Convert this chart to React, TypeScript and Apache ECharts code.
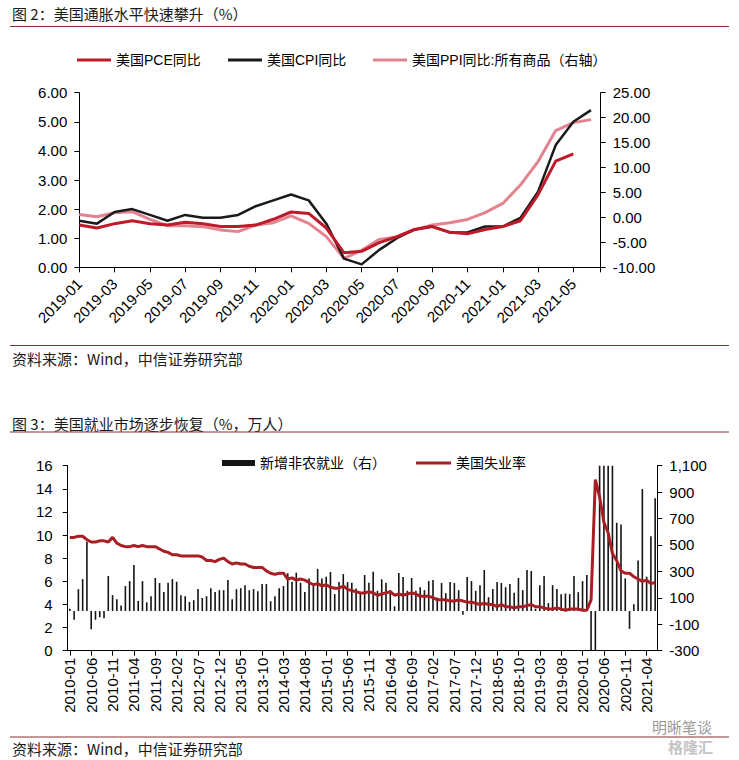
import React, { useEffect, useRef } from 'react';
import * as echarts from 'echarts';

// ---------- Chart 1 (图2) data ----------
const months1 = [
  '2019-01', '2019-02', '2019-03', '2019-04', '2019-05', '2019-06', '2019-07', '2019-08', '2019-09', '2019-10', '2019-11', '2019-12',
  '2020-01', '2020-02', '2020-03', '2020-04', '2020-05', '2020-06', '2020-07', '2020-08', '2020-09', '2020-10', '2020-11', '2020-12',
  '2021-01', '2021-02', '2021-03', '2021-04', '2021-05', '2021-06',
];
const pceYoY = [1.45, 1.35, 1.5, 1.6, 1.5, 1.45, 1.55, 1.5, 1.4, 1.4, 1.45, 1.65, 1.9, 1.85, 1.35, 0.5, 0.55, 0.85, 1.05, 1.3, 1.4, 1.2, 1.15, 1.3, 1.4, 1.6, 2.5, 3.65, 3.9];
const cpiYoY = [1.6, 1.5, 1.9, 2.0, 1.8, 1.6, 1.8, 1.7, 1.7, 1.8, 2.1, 2.3, 2.5, 2.3, 1.5, 0.3, 0.1, 0.6, 1.0, 1.3, 1.4, 1.2, 1.2, 1.4, 1.4, 1.7, 2.6, 4.2, 5.0, 5.4];
const ppiYoY = [0.6, 0.15, 0.95, 1.15, -0.4, -1.65, -1.65, -1.85, -2.5, -2.85, -1.5, -1.05, 0.3, -1.2, -3.85, -8.2, -6.6, -4.4, -3.9, -2.5, -1.5, -1.05, -0.4, 0.95, 2.8, 6.5, 11.2, 17.4, 19.0, 19.6];

// ---------- Chart 2 (图3) data ----------
const months2: string[] = [];
for (let y = 2010; y <= 2021; y++) {
  for (let m = 1; m <= 12; m++) {
    if (y === 2021 && m > 6) break;
    months2.push(`${y}-${m < 10 ? '0' + m : m}`);
  }
}
const unemployment = [
  9.8, 9.8, 9.9, 9.9, 9.6, 9.4, 9.4, 9.5, 9.5, 9.4, 9.8, 9.3,
  9.1, 9.0, 9.0, 9.1, 9.0, 9.1, 9.0, 9.0, 9.0, 8.8, 8.6, 8.5,
  8.3, 8.3, 8.2, 8.2, 8.2, 8.2, 8.2, 8.1, 7.8, 7.8, 7.7, 7.9,
  8.0, 7.7, 7.5, 7.6, 7.5, 7.5, 7.3, 7.2, 7.2, 7.2, 6.9, 6.7,
  6.6, 6.7, 6.7, 6.2, 6.3, 6.1, 6.2, 6.1, 5.9, 5.7, 5.8, 5.6,
  5.7, 5.5, 5.4, 5.4, 5.6, 5.3, 5.2, 5.1, 5.0, 5.0, 5.1, 5.0,
  4.8, 4.9, 5.0, 5.1, 4.8, 4.9, 4.8, 4.9, 5.0, 4.9, 4.7, 4.7,
  4.7, 4.6, 4.4, 4.4, 4.4, 4.3, 4.3, 4.4, 4.3, 4.2, 4.2, 4.1,
  4.0, 4.1, 4.0, 4.0, 3.8, 4.0, 3.8, 3.8, 3.7, 3.8, 3.8, 3.9,
  4.0, 3.8, 3.8, 3.7, 3.6, 3.6, 3.7, 3.6, 3.5, 3.6, 3.6, 3.6,
  3.5, 3.5, 4.4, 14.8, 13.3, 11.1, 10.2, 8.4, 7.8, 6.9, 6.7, 6.7,
  6.4, 6.2, 6.0, 6.1, 5.8, 5.9,
];
const payrolls = [
  18, -66, 166, 242, 525, -138, -66, -46, -54, 265, 120, 89,
  43, 189, 227, 349, 77, 227, 66, 112, 250, 212, 145, 214,
  242, 222, 120, 112, 69, 82, 166, 99, 112, 173, 145, 158,
  158, 235, 89, 166, 173, 196, 158, 166, 150, 204, 204, 74,
  112, 173, 189, 286, 222, 291, 214, 145, 247, 196, 319, 247,
  260, 296, 128, 219, 280, 219, 214, 171, 138, 273, 214, 298,
  153, 240, 214, 158, 36, 288, 258, 153, 250, 153, 181, 158,
  227, 235, 102, 212, 135, 219, 212, 158, -28, 258, 227, 153,
  196, 311, 105, 166, 219, 212, 181, 204, 138, 250, 158, 311,
  303, 18, 196, 265, 61, 196, 166, 128, 133, 128, 265, 143,
  227, 273, -701, -20537, 2509, 4800, 1763, 1371, 668, 655, 247, -135,
  51, 382, 923, 260, 566, 854,
];

const LATIN = '"Liberation Sans", Arial, "Noto Sans CJK SC", sans-serif';
const CJK = '"Noto Sans CJK SC", "Liberation Sans", sans-serif';
const RULE = '#8A2E2E';

const axisLabelStyle = { color: '#000', fontSize: 15, fontFamily: LATIN };
const axisLineStyle = { show: true, onZero: false, lineStyle: { color: '#000', width: 1 } };
const axisTickStyle = { show: true, length: 5, lineStyle: { color: '#000', width: 1 } };

function legendItem(name: string, left: number, top: number, w: number, h: number) {
  return {
    data: [name],
    left,
    top,
    padding: 0,
    itemWidth: w,
    itemHeight: h,
    icon: 'rect',
    selectedMode: false,
    textStyle: { color: '#000', fontSize: 14, fontFamily: LATIN },
  };
}

export default function App() {
  const ref = useRef<HTMLDivElement>(null);
  useEffect(() => {
    document.body.style.margin = '0';
    const chart = echarts.init(ref.current!, null, { renderer: 'svg' });
    const option: any = {
      animation: false,
      backgroundColor: '#ffffff',
      grid: [
        { left: 79.3, top: 92.7, width: 521.4, height: 174.6 },
        { left: 67.7, top: 465.7, width: 589.6, height: 185 },
      ],
      legend: [
        legendItem('美国PCE同比', 77, 53, 34, 3),
        legendItem('美国CPI同比', 228, 53, 34, 3),
        legendItem('美国PPI同比:所有商品（右轴）', 373, 53, 34, 3),
        legendItem('新增非农就业（右）', 222, 456, 33, 6),
        legendItem('美国失业率', 416, 456, 35, 3),
      ],
      xAxis: [
        {
          type: 'value',
          gridIndex: 0,
          min: 0,
          max: 29.55,
          interval: 2,
          axisLine: axisLineStyle,
          axisTick: axisTickStyle,
          splitLine: { show: false },
          axisLabel: {
            ...axisLabelStyle,
            rotate: 45,
            margin: 14,
            formatter: (v: number) => {
              const i = Math.round(v);
              return Math.abs(v - i) < 1e-6 && i % 2 === 0 && i < months1.length ? months1[i] : '';
            },
          },
        },
        {
          type: 'category',
          gridIndex: 1,
          data: months2,
          boundaryGap: true,
          axisLine: axisLineStyle,
          axisTick: { ...axisTickStyle, interval: 4, alignWithLabel: true },
          splitLine: { show: false },
          axisLabel: { ...axisLabelStyle, interval: 4, rotate: 90, margin: 7 },
        },
      ],
      yAxis: [
        {
          type: 'value', gridIndex: 0, position: 'left', min: 0, max: 6, interval: 1,
          axisLine: axisLineStyle, axisTick: axisTickStyle, splitLine: { show: false },
          axisLabel: { ...axisLabelStyle, margin: 12, formatter: (v: number) => v.toFixed(2) },
        },
        {
          type: 'value', gridIndex: 0, position: 'right', min: -10, max: 25, interval: 5,
          axisLine: axisLineStyle, axisTick: axisTickStyle, splitLine: { show: false },
          axisLabel: { ...axisLabelStyle, margin: 12, formatter: (v: number) => v.toFixed(2) },
        },
        {
          type: 'value', gridIndex: 1, position: 'left', min: 0, max: 16, interval: 2,
          axisLine: axisLineStyle, axisTick: axisTickStyle, splitLine: { show: false },
          axisLabel: { ...axisLabelStyle, margin: 15 },
        },
        {
          type: 'value', gridIndex: 1, position: 'right', min: -300, max: 1100, interval: 200,
          axisLine: axisLineStyle, axisTick: axisTickStyle, splitLine: { show: false },
          axisLabel: { ...axisLabelStyle, margin: 12, formatter: (v: number) => v.toLocaleString('en-US') },
        },
      ],
      series: [
        {
          name: '美国PPI同比:所有商品（右轴）', type: 'line', xAxisIndex: 0, yAxisIndex: 1,
          data: ppiYoY.map((v, i) => [i, v]), symbol: 'none', z: 2,
          lineStyle: { color: '#E3838F', width: 3 }, itemStyle: { color: '#E3838F' },
        },
        {
          name: '美国CPI同比', type: 'line', xAxisIndex: 0, yAxisIndex: 0,
          data: cpiYoY.map((v, i) => [i, v]), symbol: 'none', z: 3,
          lineStyle: { color: '#1A1A1A', width: 2.5 }, itemStyle: { color: '#1A1A1A' },
        },
        {
          name: '美国PCE同比', type: 'line', xAxisIndex: 0, yAxisIndex: 0,
          data: pceYoY.map((v, i) => [i, v]), symbol: 'none', z: 4,
          lineStyle: { color: '#BE1A2A', width: 3 }, itemStyle: { color: '#BE1A2A' },
        },
        {
          name: '新增非农就业（右）', type: 'bar', xAxisIndex: 1, yAxisIndex: 3,
          data: payrolls, barWidth: 1.6, clip: true, z: 2,
          itemStyle: { color: '#141414' },
        },
        {
          name: '美国失业率', type: 'line', xAxisIndex: 1, yAxisIndex: 2,
          data: unemployment, symbol: 'none', z: 4,
          lineStyle: { color: '#A81E24', width: 3 }, itemStyle: { color: '#A81E24' },
        },
      ],
      graphic: [
        { type: 'text', x: 12, y: 13, style: { text: '图 2：美国通胀水平快速攀升（%）', fontSize: 15, fontFamily: CJK, fill: '#1a1a1a', verticalAlign: 'middle' } },
        { type: 'line', shape: { x1: 10, y1: 26.5, x2: 729, y2: 26.5 }, style: { stroke: RULE, lineWidth: 1 } },
        { type: 'line', shape: { x1: 10, y1: 345.5, x2: 729, y2: 345.5 }, style: { stroke: RULE, lineWidth: 1 } },
        { type: 'text', x: 12, y: 358, style: { text: '资料来源：Wind，中信证券研究部', fontSize: 15, fontFamily: CJK, fill: '#1a1a1a', verticalAlign: 'middle' } },
        { type: 'text', x: 12, y: 423, style: { text: '图 3：美国就业市场逐步恢复（%，万人）', fontSize: 15, fontFamily: CJK, fill: '#1a1a1a', verticalAlign: 'middle' } },
        { type: 'line', shape: { x1: 10, y1: 432, x2: 729, y2: 432 }, style: { stroke: RULE, lineWidth: 1 } },
        { type: 'line', shape: { x1: 10, y1: 737, x2: 729, y2: 737 }, style: { stroke: RULE, lineWidth: 1 } },
        { type: 'text', x: 12, y: 748, style: { text: '资料来源：Wind，中信证券研究部', fontSize: 15, fontFamily: CJK, fill: '#1a1a1a', verticalAlign: 'middle' } },
        { type: 'text', x: 652, y: 726, style: { text: '明晰笔谈', fontSize: 15, fontFamily: CJK, fill: '#9a9a9a', verticalAlign: 'middle' } },
        { type: 'text', x: 668, y: 746, style: { text: '格隆汇', fontSize: 15, fontWeight: 'bold', fontFamily: CJK, fill: '#c4c4c4', verticalAlign: 'middle' } },
      ],
    };
    chart.setOption(option);
    return () => chart.dispose();
  }, []);
  return <div ref={ref} style={{ position: 'fixed', left: 0, top: 0, width: 739, height: 760 }} />;
}
